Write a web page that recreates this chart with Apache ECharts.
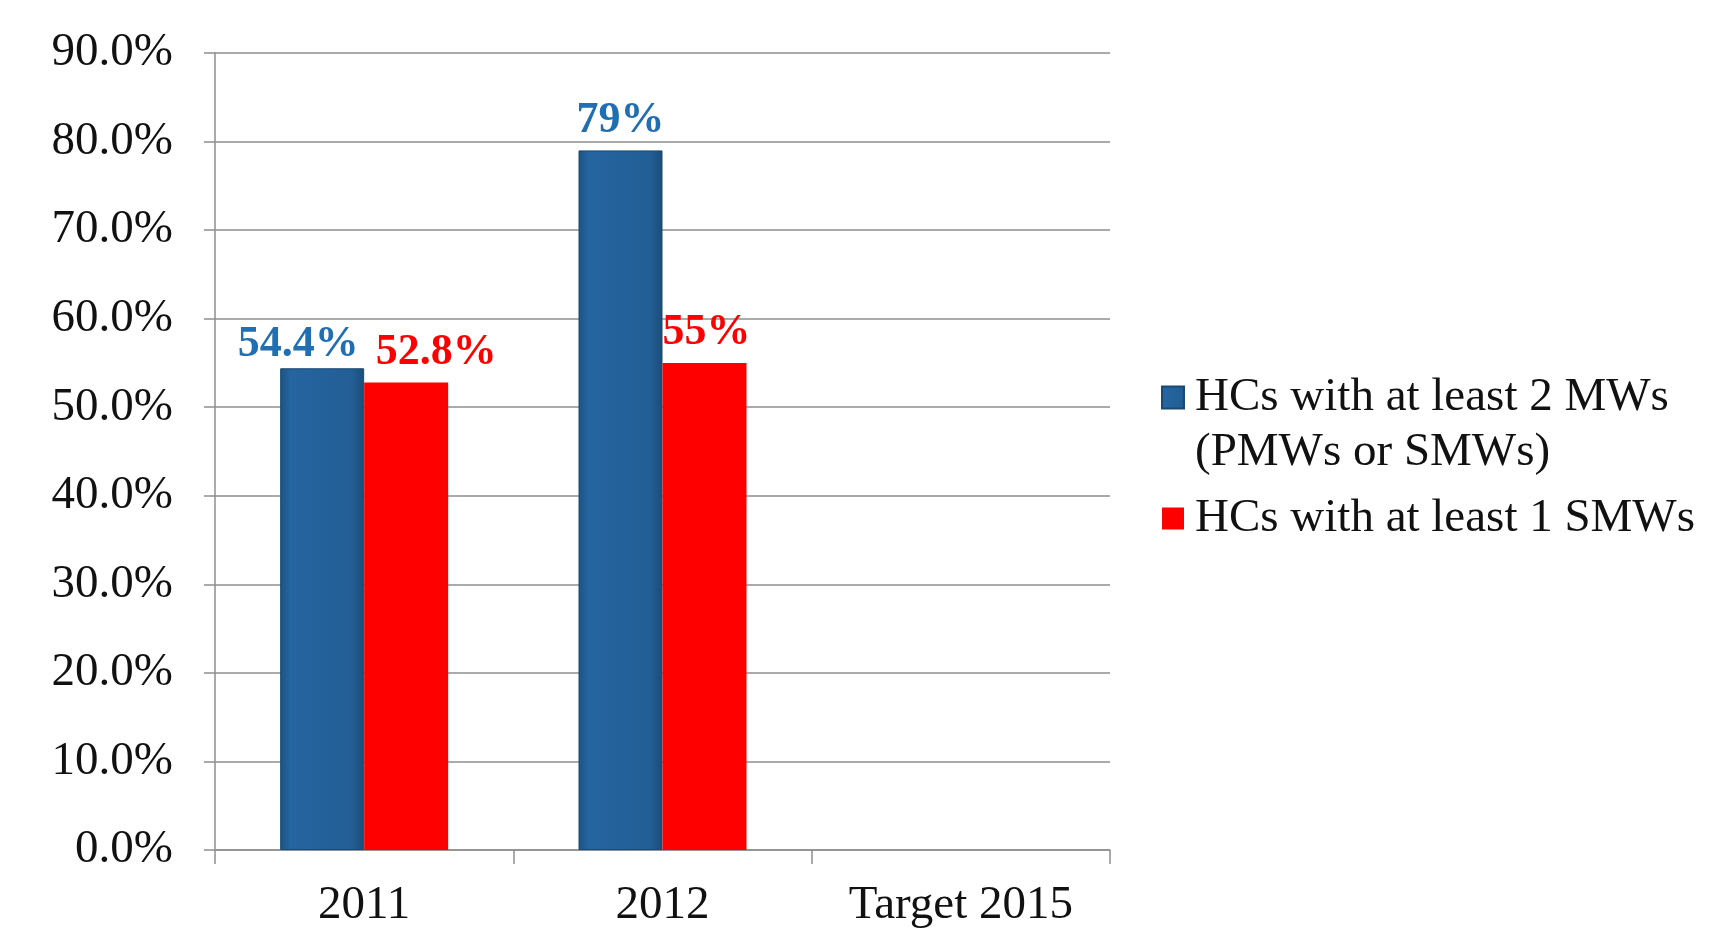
<!DOCTYPE html>
<html>
<head>
<meta charset="utf-8">
<script src="https://cdn.jsdelivr.net/npm/echarts@6/dist/echarts.min.js"></script>
<style>
  html, body { margin: 0; padding: 0; background: #fff; }
  #chart { width: 1726px; height: 930px; }
</style>
</head>
<body>
<div id="chart"></div>
<script>
// chart data
const categories = ['2011', '2012', 'Target 2015'];
const seriesNames = ['HCs with at least 2 MWs (PMWs or SMWs)', 'HCs with at least 1 SMWs'];
const atLeast2MWs = [54.4, 79, null];
const atLeast1SMW = [52.8, 55, null];
const labelsMWs = ['54.4%', '79%', ''];
const labelsSMW = ['52.8%', '55%', ''];

const FONT = '"Liberation Serif", "DejaVu Serif", serif';
const GRID_COLOR = '#8e8e8e';

// small nudges so the 2011 labels don't collide
const blueOffsets = [[-24, 6], [0, 0], [0, 0]];
const redOffsets = [[30, 0], [2, 0], [0, 0]];

const blueFill = new echarts.graphic.LinearGradient(0, 0, 1, 0, [
  { offset: 0, color: '#1c5482' },
  { offset: 0.12, color: '#2464a0' },
  { offset: 0.85, color: '#235f96' },
  { offset: 1, color: '#1a4d78' },
]);

function buildData(values, labels, offsets) {
  return values.map((v, i) => ({
    value: v,
    label: { formatter: labels[i], offset: offsets[i] },
  }));
}

const chart = echarts.init(document.getElementById('chart'));

const option = {
  backgroundColor: '#ffffff',
  animation: false,
  grid: { left: 215, right: 616, top: 53, bottom: 80, containLabel: false },
  legend: {
    orient: 'vertical',
    left: 1156,
    top: 310,
    itemWidth: 22,
    itemHeight: 22,
    itemGap: 11,
    icon: 'rect',
    formatter: (name) =>
      name === seriesNames[0] ? '\nHCs with at least 2 MWs\n(PMWs or SMWs)' : name,
    textStyle: { fontFamily: FONT, fontSize: 47, color: '#111', lineHeight: 55, padding: [0, 0, 0, 6] },
    data: seriesNames,
  },
  xAxis: {
    type: 'category',
    data: categories,
    axisLine: { lineStyle: { color: GRID_COLOR, width: 1.5 } },
    axisTick: { show: true, length: 14, lineStyle: { color: GRID_COLOR, width: 1.5 } },
    axisLabel: { fontFamily: FONT, fontSize: 47, color: '#111', margin: 32 },
  },
  yAxis: {
    type: 'value',
    min: 0,
    max: 90,
    interval: 10,
    axisLine: { show: true, lineStyle: { color: GRID_COLOR, width: 1.5 } },
    axisTick: { show: true, length: 11, lineStyle: { color: GRID_COLOR, width: 1.5 } },
    axisLabel: {
      fontFamily: FONT,
      fontSize: 47,
      color: '#111',
      margin: 42,
      formatter: (v) => v.toFixed(1) + '%',
    },
    splitLine: { lineStyle: { color: GRID_COLOR, width: 1.5 } },
  },
  series: [
    {
      name: seriesNames[0],
      type: 'bar',
      barWidth: 84,
      barGap: '0%',
      data: buildData(atLeast2MWs, labelsMWs, blueOffsets),
      itemStyle: { color: blueFill, borderColor: '#1a4a72', borderWidth: 1 },
      label: {
        show: true,
        position: 'top',
        distance: 8,
        fontFamily: FONT,
        fontWeight: 'bold',
        fontSize: 44,
        color: '#1f6fb2',
      },
    },
    {
      name: seriesNames[1],
      type: 'bar',
      barWidth: 84,
      data: buildData(atLeast1SMW, labelsSMW, redOffsets),
      itemStyle: { color: '#ff0000' },
      label: {
        show: true,
        position: 'top',
        distance: 8,
        fontFamily: FONT,
        fontWeight: 'bold',
        fontSize: 44,
        color: '#ff0000',
      },
    },
  ],
};

chart.setOption(option);
</script>
</body>
</html>
